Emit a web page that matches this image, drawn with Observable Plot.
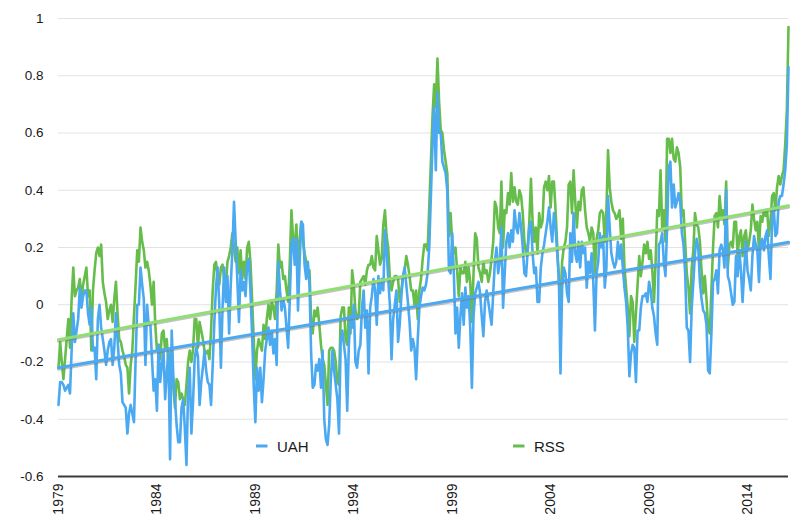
<!DOCTYPE html>
<html>
<head>
<meta charset="utf-8">
<script src="https://cdn.jsdelivr.net/npm/d3@7"></script>
<script src="https://cdn.jsdelivr.net/npm/@observablehq/plot@0.6"></script>
<style>
  html, body { margin: 0; padding: 0; background: #fff; }
  #chart { position: relative; width: 804px; height: 526px; font-family: "Liberation Sans", Arial, Helvetica, sans-serif; }
</style>
</head>
<body>
<div id="chart"></div>
<script>
// Monthly anomalies, Jan 1979 .. Feb 2016
const uah = [
  -0.35,-0.27,-0.27,-0.28,-0.30,-0.29,-0.28,-0.31,-0.16,-0.03,-0.13,-0.09, // 1979
  -0.05, 0.06,-0.01, 0.03, 0.05, 0.05,-0.03,-0.07,-0.01,-0.16,-0.15,-0.26, // 1980
  -0.05, 0.00,-0.08,-0.12,-0.16,-0.21,-0.16,-0.13,-0.12,-0.21,-0.15,-0.03, // 1981
  -0.12,-0.21,-0.24,-0.34,-0.35,-0.36,-0.45,-0.38,-0.35,-0.38,-0.41,-0.19, // 1982
   0.00, 0.00, 0.13, 0.07, 0.02,-0.21, 0.00,-0.07,-0.07,-0.19,-0.30,-0.26, // 1983
  -0.37,-0.14,-0.27,-0.21,-0.16,-0.33,-0.24,-0.16,-0.54,-0.09,-0.25,-0.33, // 1984
  -0.42,-0.48,-0.48,-0.36,-0.33,-0.43,-0.56,-0.30,-0.22,-0.45,-0.34,-0.19, // 1985
  -0.15,-0.18,-0.35,-0.27,-0.22,-0.16,-0.23,-0.27,-0.28,-0.35,-0.21,-0.06, // 1986
   0.06, 0.13, 0.00,-0.22,-0.01, 0.13, 0.01, 0.10,-0.10, 0.07, 0.19, 0.36, // 1987
   0.22, 0.09,-0.06, 0.12, 0.05, 0.08, 0.03, 0.14, 0.16, 0.05,-0.10,-0.28, // 1988
  -0.41,-0.22,-0.30,-0.22,-0.34,-0.26,-0.16,-0.12,-0.08,-0.14,-0.09,-0.17, // 1989
  -0.12,-0.21, 0.15, 0.05,-0.02, 0.02,-0.01,-0.08,-0.15, 0.02, 0.21, 0.23, // 1990
   0.14, 0.23,-0.02, 0.15, 0.29, 0.28, 0.14, 0.09, 0.15, 0.07,-0.17,-0.29, // 1991
  -0.28,-0.21,-0.23,-0.19,-0.29,-0.16,-0.40,-0.47,-0.49,-0.42,-0.26,-0.16, // 1992
  -0.23,-0.28,-0.33,-0.45,-0.13,-0.09,-0.14,-0.19,-0.37,-0.14,-0.04,-0.08, // 1993
   0.00,-0.20,-0.22,-0.16,-0.14,-0.01, 0.05,-0.08,-0.02,-0.24,-0.01, 0.03, // 1994
   0.09, 0.05,-0.07, 0.10, 0.04, 0.09, 0.05, 0.26, 0.19, 0.09, 0.00,-0.19, // 1995
  -0.05, 0.00, 0.05,-0.13,-0.07, 0.03, 0.10, 0.13, 0.07, 0.01,-0.06,-0.16, // 1996
  -0.12,-0.15,-0.26,-0.12,-0.01, 0.03, 0.06, 0.05, 0.07, 0.11, 0.20, 0.38, // 1997
   0.56, 0.69, 0.47, 0.74, 0.60, 0.60, 0.50, 0.48, 0.46, 0.40, 0.12, 0.11, // 1998
   0.25, 0.11,-0.10,-0.01,-0.15,-0.04, 0.04,-0.07, 0.06,-0.01, 0.03,-0.08, // 1999
  -0.29,-0.04, 0.04, 0.06, 0.08, 0.04,-0.04,-0.11, 0.01, 0.05, 0.01,-0.03, // 2000
  -0.07, 0.04, 0.15, 0.20, 0.11, 0.15, 0.27,-0.01, 0.11, 0.22, 0.25, 0.20, // 2001
   0.26, 0.22, 0.33, 0.27, 0.25, 0.32, 0.27, 0.20, 0.11, 0.10, 0.19, 0.27, // 2002
   0.29, 0.18, 0.11, 0.13, 0.01, 0.01, 0.13, 0.18, 0.21, 0.25, 0.29, 0.34, // 2003
   0.27, 0.22, 0.32, 0.27, 0.18, 0.10,-0.24, 0.06, 0.13, 0.11, 0.04, 0.01, // 2004
   0.25, 0.15, 0.32, 0.18, 0.15, 0.22, 0.13, 0.22, 0.18, 0.20, 0.06, 0.15, // 2005
   0.11, 0.18, 0.08,-0.09, 0.11, 0.15, 0.25, 0.20, 0.24, 0.06, 0.13, 0.38, // 2006
   0.27, 0.18, 0.15, 0.13, 0.15, 0.22, 0.16, 0.21, 0.13, 0.06, 0.01,-0.08, // 2007
  -0.25,-0.17,-0.14,-0.15,-0.27,-0.09,-0.09,-0.01, 0.03, 0.03, 0.04, 0.01, // 2008
   0.08, 0.05,-0.01,-0.04,-0.10,-0.14, 0.21, 0.22, 0.25, 0.15, 0.10, 0.27, // 2009
   0.48, 0.50, 0.34, 0.42, 0.34, 0.36, 0.39, 0.36, 0.25, 0.21, 0.11,-0.08, // 2010
  -0.09,-0.20,-0.01, 0.08, 0.18, 0.23, 0.20, 0.08, 0.02,-0.02,-0.03,-0.07, // 2011
  -0.23,-0.24,-0.10, 0.08, 0.09, 0.12, 0.04, 0.19, 0.21, 0.19, 0.13, 0.40, // 2012
   0.10, 0.08, 0.04, 0.00, 0.01, 0.17, 0.10, 0.19, 0.12, 0.01, 0.12, 0.22, // 2013
   0.12, 0.09, 0.05, 0.17, 0.24, 0.21, 0.19, 0.08, 0.22, 0.23, 0.19, 0.24, // 2014
   0.26, 0.17, 0.09, 0.29, 0.34, 0.24, 0.25, 0.36, 0.38, 0.38, 0.42, 0.47, // 2015
   0.56, 0.83                                                              // 2016
];
const rss = [
  -0.22,-0.13,-0.20,-0.26,-0.19,-0.12,-0.05,-0.15, 0.02, 0.13, 0.03, 0.05, // 1979
   0.06, 0.09, 0.02, 0.07, 0.10, 0.13, 0.03, 0.05,-0.16, 0.05, 0.12, 0.18, // 1980
   0.20, 0.17, 0.21, 0.08, 0.04, 0.01,-0.05,-0.02, 0.00,-0.06, 0.02, 0.08, // 1981
  -0.03,-0.12,-0.13,-0.16,-0.18,-0.21,-0.22,-0.31,-0.21,-0.16,-0.04, 0.07, // 1982
   0.19, 0.15, 0.27, 0.22, 0.19, 0.13, 0.15, 0.12, 0.07, 0.00, 0.08,-0.07, // 1983
  -0.16,-0.14,-0.19,-0.10,-0.09,-0.16,-0.12,-0.21,-0.18,-0.15,-0.29,-0.36, // 1984
  -0.26,-0.27,-0.33,-0.31,-0.33,-0.35,-0.28,-0.20,-0.16,-0.20,-0.16,-0.05, // 1985
  -0.05,-0.15,-0.06,-0.09,-0.12,-0.16,-0.17,-0.16,-0.19,-0.09, 0.05, 0.14, // 1986
   0.15, 0.09, 0.07, 0.13, 0.14, 0.09, 0.07, 0.15, 0.17, 0.20, 0.25, 0.20, // 1987
   0.15, 0.20, 0.11, 0.19, 0.09, 0.15, 0.09, 0.20, 0.22, 0.15, 0.02,-0.12, // 1988
  -0.26,-0.16,-0.12,-0.14,-0.16,-0.07,-0.12,-0.05, 0.00,-0.05, 0.01,-0.01, // 1989
  -0.05, 0.05, 0.21, 0.13, 0.15, 0.09, 0.10, 0.05, 0.01, 0.15, 0.33, 0.23, // 1990
   0.20, 0.28, 0.12, 0.23, 0.29, 0.22, 0.18, 0.15, 0.12, 0.12,-0.05,-0.10, // 1991
  -0.02,-0.04,-0.01,-0.07,-0.14,-0.19,-0.21,-0.28,-0.35,-0.16,-0.15,-0.15, // 1992
  -0.16,-0.20,-0.27,-0.28,-0.04,-0.01,-0.01,-0.12,-0.14,-0.01,-0.10, 0.12, // 1993
   0.07,-0.02,-0.05,-0.04, 0.08, 0.09, 0.10, 0.07, 0.12, 0.14, 0.14, 0.17, // 1994
   0.13, 0.12, 0.24, 0.19, 0.14, 0.16, 0.28, 0.33, 0.24, 0.20, 0.09, 0.05, // 1995
   0.08, 0.10, 0.10, 0.09, 0.01, 0.05, 0.10, 0.12, 0.17, 0.14, 0.10, 0.05, // 1996
   0.05, 0.00, 0.05,-0.05, 0.05, 0.09, 0.16, 0.21, 0.21, 0.19, 0.34, 0.50, // 1997
   0.66, 0.77, 0.69, 0.86, 0.71, 0.61, 0.60, 0.54, 0.50, 0.46, 0.24, 0.32, // 1998
   0.22, 0.18, 0.20, 0.12, 0.03, 0.13, 0.11, 0.11, 0.15, 0.08, 0.13, 0.08, // 1999
  -0.06, 0.11, 0.25, 0.23, 0.13, 0.11, 0.08, 0.15, 0.11, 0.12, 0.08, 0.11, // 2000
   0.16, 0.22, 0.36, 0.34, 0.27, 0.25, 0.43, 0.20, 0.33, 0.32, 0.39, 0.35, // 2001
   0.46, 0.36, 0.41, 0.36, 0.35, 0.40, 0.38, 0.32, 0.22, 0.18, 0.20, 0.29, // 2002
   0.44, 0.29, 0.22, 0.27, 0.18, 0.32, 0.27, 0.29, 0.41, 0.43, 0.40, 0.45, // 2003
   0.34, 0.43, 0.43, 0.33, 0.21, 0.08, 0.01, 0.15, 0.20, 0.22, 0.27, 0.42, // 2004
   0.43, 0.32, 0.47, 0.36, 0.27, 0.36, 0.33, 0.40, 0.41, 0.33, 0.27, 0.25, // 2005
   0.22, 0.27, 0.25, 0.11, 0.23, 0.26, 0.32, 0.33, 0.32, 0.22, 0.33, 0.54, // 2006
   0.41, 0.36, 0.33, 0.32, 0.30, 0.31, 0.33, 0.23, 0.30, 0.13, 0.06,-0.01, // 2007
  -0.11, 0.03, 0.01,-0.13,-0.03, 0.07, 0.17, 0.10, 0.15, 0.21, 0.18, 0.22, // 2008
   0.16, 0.19, 0.12, 0.01, 0.15, 0.33, 0.31, 0.47, 0.27, 0.33, 0.22, 0.58, // 2009
   0.58, 0.53, 0.58, 0.51, 0.50, 0.55, 0.53, 0.48, 0.31, 0.33, 0.22, 0.11, // 2010
   0.06,-0.03, 0.13, 0.19, 0.32, 0.28, 0.27, 0.22, 0.12, 0.04, 0.10, 0.02, // 2011
  -0.08,-0.10, 0.05, 0.20, 0.31, 0.32, 0.27, 0.38, 0.31, 0.33, 0.28, 0.43, // 2012
   0.13, 0.21, 0.22, 0.20, 0.29, 0.29, 0.17, 0.24, 0.26, 0.17, 0.24, 0.26, // 2013
   0.19, 0.22, 0.26, 0.35, 0.30, 0.26, 0.29, 0.19, 0.31, 0.29, 0.33, 0.31, // 2014
   0.33, 0.24, 0.29, 0.38, 0.39, 0.33, 0.41, 0.45, 0.42, 0.45, 0.47, 0.56, // 2015
   0.68, 0.97                                                              // 2016
];
// linear trend lines: value at the first and at the last month
const uahTrend = [-0.22, 0.218];
const rssTrend = [-0.122, 0.346];

const startYear = 1979;
const yearLabels = [1979, 1984, 1989, 1994, 1999, 2004, 2009, 2014];
const yTicks = [-0.6, -0.4, -0.2, 0, 0.2, 0.4, 0.6, 0.8, 1];
const seriesNames = ["UAH", "RSS"];
const seriesColors = ["#4aa9f1", "#66bd4b"];
const trendColors = ["#4aa9f1", "#8fdf72"];

const toRows = (arr, s) => arr.map((v, i) => ({i, v, s}));
const uahRows = toRows(uah, "UAH");
const rssRows = toRows(rss, "RSS");
const N = uah.length;
const trendRows = (t) => [{i: 0, v: t[0]}, {i: N - 1, v: t[1]}];
const uahTrendRows = trendRows(uahTrend);
const rssTrendRows = trendRows(rssTrend);
const tickIdx = yearLabels.map(y => (y - startYear) * 12);
const fmtY = d => String(Math.round(d * 10) / 10);

const plot = Plot.plot({
  width: 804,
  height: 526,
  marginLeft: 58,
  marginRight: 16,
  marginTop: 18,
  marginBottom: 50,
  style: {fontFamily: '"Liberation Sans", Arial, Helvetica, sans-serif', fontSize: "13px", color: "#1a1a1a", background: "#fff"},
  x: {domain: [0, N - 1], axis: null},
  y: {domain: [-0.6, 1], axis: null},
  marks: [
    Plot.gridY(yTicks.filter(d => d > -0.6), {stroke: "#e2e2e2", strokeOpacity: 1, strokeWidth: 1}),
    Plot.axisY(yTicks, {label: null, tickSize: 0, tickPadding: 15, tickFormat: fmtY, fontSize: 13.5, fill: "#1a1a1a"}),
    Plot.axisX(tickIdx, {label: null, tickSize: 0, tickPadding: 7, tickRotate: -90, tickFormat: i => String(startYear + i / 12), fontSize: 14, fill: "#1a1a1a"}),
    Plot.ruleY([-0.6], {stroke: "#3a3a3a", strokeWidth: 2.2}),
    Plot.line(rssRows, {x: "i", y: "v", stroke: seriesColors[1], strokeWidth: 2.6, strokeLinejoin: "round"}),
    Plot.line(uahRows, {x: "i", y: "v", stroke: seriesColors[0], strokeWidth: 2.6, strokeLinejoin: "round"}),
    Plot.line(rssTrendRows, {x: "i", y: "v", stroke: "#777", strokeOpacity: 0.45, strokeWidth: 3, dy: 1.5}),
    Plot.line(rssTrendRows, {x: "i", y: "v", stroke: trendColors[1], strokeWidth: 3}),
    Plot.line(uahTrendRows, {x: "i", y: "v", stroke: "#777", strokeOpacity: 0.45, strokeWidth: 3, dy: 1.5}),
    Plot.line(uahTrendRows, {x: "i", y: "v", stroke: trendColors[0], strokeWidth: 3})
  ]
});
document.getElementById("chart").appendChild(plot);

// legend inside the plot area
const svg = d3.select(plot);
const legendPos = [256, 513];
const lg = svg.append("g")
  .attr("font-family", '"Liberation Sans", Arial, Helvetica, sans-serif')
  .attr("font-size", 15).attr("fill", "#1a1a1a").attr("text-anchor", "start");
seriesNames.forEach((name, k) => {
  const x0 = legendPos[k];
  lg.append("line").attr("x1", x0).attr("x2", x0 + 11.5).attr("y1", 446).attr("y2", 446)
    .attr("stroke", seriesColors[k]).attr("stroke-width", 3);
  lg.append("text").attr("x", x0 + 21).attr("y", 451.5).attr("text-anchor", "start").text(name);
});
</script>
</body>
</html>
